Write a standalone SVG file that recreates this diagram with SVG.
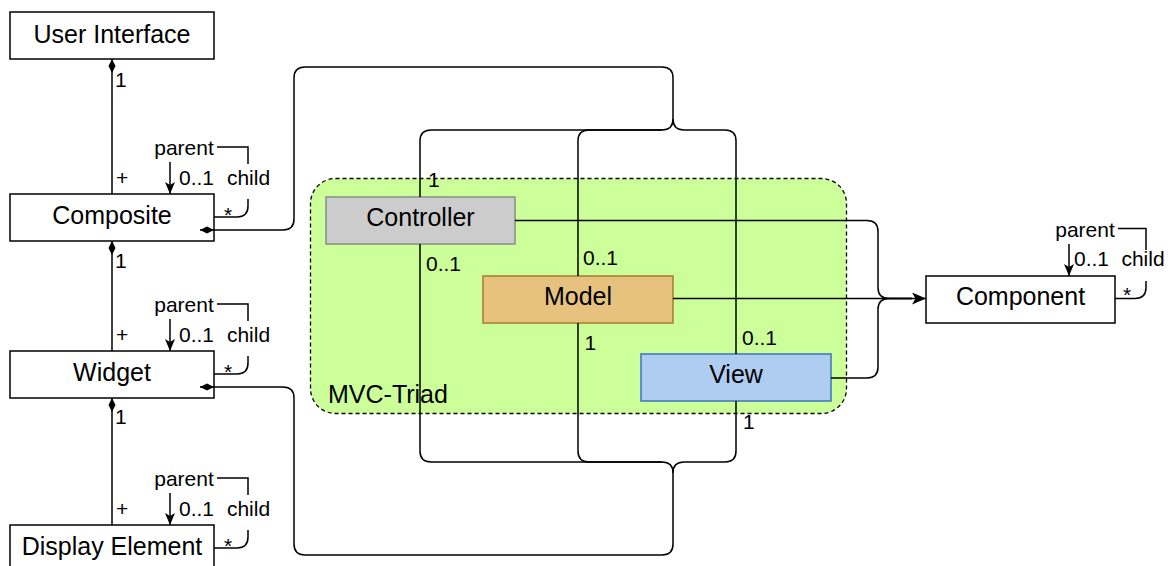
<svg xmlns="http://www.w3.org/2000/svg" width="1172" height="566" viewBox="0 0 1172 566">
  <style>
    .box { fill: #ffffff; stroke: #000000; stroke-width: 1.5; }
    .name { font-family: "Liberation Sans", Arial, Helvetica, sans-serif; font-size: 25px; fill: #000000; text-anchor: middle; }
    .lbl { font-family: "Liberation Sans", Arial, Helvetica, sans-serif; font-size: 21px; fill: #000000; }
    .mid { text-anchor: middle; }
    .edge { fill: none; stroke: #000000; stroke-width: 1.5; }
    .bg { fill: #ffffff; }
  </style>
  <defs>
    <!-- filled composition diamond, placed at the start of a path -->
    <marker id="diamond" viewBox="0 0 14 8" refX="0" refY="4" markerWidth="14" markerHeight="8" markerUnits="userSpaceOnUse" orient="auto">
      <path d="M0,4 L7,0.5 L14,4 L7,7.5 Z" fill="#000000"/>
    </marker>
    <!-- classic filled arrowhead -->
    <marker id="arrow" viewBox="0 0 14 12" refX="14" refY="6" markerWidth="14" markerHeight="12" markerUnits="userSpaceOnUse" orient="auto">
      <path d="M0,0 L14,6 L0,12 L3.5,6 Z" fill="#000000"/>
    </marker>
    <marker id="arrowSm" viewBox="0 0 12 10" refX="12" refY="5" markerWidth="12" markerHeight="10" markerUnits="userSpaceOnUse" orient="auto">
      <path d="M0,0 L12,5 L0,10 L3,5 Z" fill="#000000"/>
    </marker>
  </defs>

  <!-- container for the MVC triad -->
  <g id="mvc-triad">
    <rect x="310.5" y="178.5" width="536" height="235" rx="25" ry="25" fill="#ccff99" stroke="#000000" stroke-width="1.3" stroke-dasharray="4 3"/>
    <text class="name" x="328" y="403" style="text-anchor:start">MVC-Triad</text>
  </g>

  <!-- nodes -->
  <g id="user-interface">
    <rect class="box" x="10" y="12" width="204" height="47"/>
    <text class="name" x="112" y="43">User Interface</text>
  </g>
  <g id="composite">
    <rect class="box" x="10" y="194" width="204" height="47"/>
    <text class="name" x="112" y="224">Composite</text>
  </g>
  <g id="widget">
    <rect class="box" x="10" y="351" width="204" height="47"/>
    <text class="name" x="112" y="381">Widget</text>
  </g>
  <g id="display-element">
    <rect class="box" x="10" y="525" width="204" height="47"/>
    <text class="name" x="112" y="555">Display Element</text>
  </g>
  <g id="controller">
    <rect x="326" y="197" width="189" height="47" fill="#cccccc" stroke="#8a8a8a" stroke-width="1.5"/>
    <text class="name" x="420.5" y="226">Controller</text>
  </g>
  <g id="model">
    <rect x="483" y="276" width="190" height="47" fill="#e7c27f" stroke="#a87b2c" stroke-width="1.5"/>
    <text class="name" x="578" y="305">Model</text>
  </g>
  <g id="view">
    <rect x="641" y="354" width="190" height="47" fill="#aecdf0" stroke="#3a74bd" stroke-width="1.5"/>
    <text class="name" x="736" y="383">View</text>
  </g>
  <g id="component">
    <rect class="box" x="926" y="276" width="189" height="47"/>
    <text class="name" x="1020.5" y="305">Component</text>
  </g>

  <!-- connectors -->
  <g id="connectors">
    <!-- composition chain on the left -->
    <path class="edge" d="M112 59 V194" marker-start="url(#diamond)"/>
    <path class="edge" d="M112 241 V351" marker-start="url(#diamond)"/>
    <path class="edge" d="M112 398 V525" marker-start="url(#diamond)"/>

    <!-- parent/child self loops -->
    <path class="edge" d="M214 217 H237 Q248 217 248 206 V147 H170 V194" marker-end="url(#arrowSm)"/>
    <path class="edge" d="M214 374 H237 Q248 374 248 363 V304 H170 V351" marker-end="url(#arrowSm)"/>
    <path class="edge" d="M214 548 H237 Q248 548 248 537 V478 H170 V525" marker-end="url(#arrowSm)"/>
    <path class="edge" d="M1115 298.5 H1135 Q1146 298.5 1146 287.5 V228.5 H1069 V276" marker-end="url(#arrowSm)"/>

    <!-- Composite to the triad: shared upper bus, branches split at x=673 -->
    <path class="edge" d="M200 230 H283 Q294 230 294 219 V78 Q294 67 305 67 H662 Q673 67 673 78 V119 Q673 130 662 130 H431 Q420 130 420 141 V197" marker-start="url(#diamond)"/>
    <path class="edge" d="M662 130 H589 Q578 130 578 141 V276"/>
    <path class="edge" d="M673 119 Q673 130 684 130 H725 Q736 130 736 141 V354"/>

    <!-- Widget to the triad: shared lower bus -->
    <path class="edge" d="M200 387 H283 Q294 387 294 398 V544 Q294 555 305 555 H662 Q673 555 673 544 V473 Q673 462 662 462 H431 Q420 462 420 451 V244" marker-start="url(#diamond)"/>
    <path class="edge" d="M662 462 H589 Q578 462 578 451 V323"/>
    <path class="edge" d="M673 473 Q673 462 684 462 H725 Q736 462 736 451 V401"/>

    <!-- triad members to Component -->
    <path class="edge" d="M515 220.5 H867 Q878 220.5 878 231.5 V287.5 Q878 298.5 889 298.5 H912"/>
    <path class="edge" d="M673 298.5 H926" marker-end="url(#arrow)"/>
    <path class="edge" d="M831 378 H867 Q878 378 878 367 V309.5 Q878 298.5 889 298.5 H912"/>
  </g>

  <!-- connector labels -->
  <g id="connector-labels">
    <text class="lbl" x="115" y="87">1</text>
    <text class="lbl" x="116" y="185">+</text>
    <text class="lbl" x="115" y="268">1</text>
    <text class="lbl" x="116" y="342">+</text>
    <text class="lbl" x="115" y="424">1</text>
    <text class="lbl" x="116" y="516">+</text>

    <!-- Composite loop -->
    <rect class="bg" x="151" y="137" width="66" height="25"/>
    <text class="lbl mid" x="184" y="155">parent</text>
    <text class="lbl" x="179" y="185">0..1</text>
    <rect class="bg" x="225" y="164" width="47" height="35"/>
    <text class="lbl mid" x="248.5" y="185">child</text>
    <text class="lbl mid" x="228" y="222">*</text>

    <!-- Widget loop -->
    <rect class="bg" x="151" y="294" width="66" height="25"/>
    <text class="lbl mid" x="184" y="312">parent</text>
    <text class="lbl" x="179" y="342">0..1</text>
    <rect class="bg" x="225" y="321" width="47" height="35"/>
    <text class="lbl mid" x="248.5" y="342">child</text>
    <text class="lbl mid" x="228" y="379">*</text>

    <!-- Display Element loop -->
    <rect class="bg" x="151" y="468" width="66" height="25"/>
    <text class="lbl mid" x="184" y="486">parent</text>
    <text class="lbl" x="179" y="516">0..1</text>
    <rect class="bg" x="225" y="495" width="47" height="35"/>
    <text class="lbl mid" x="248.5" y="516">child</text>
    <text class="lbl mid" x="228" y="553">*</text>

    <!-- Component loop -->
    <rect class="bg" x="1051" y="219" width="67" height="25"/>
    <text class="lbl mid" x="1085" y="237">parent</text>
    <text class="lbl" x="1074" y="266">0..1</text>
    <rect class="bg" x="1121" y="250" width="46" height="31"/>
    <text class="lbl mid" x="1143" y="266">child</text>
    <text class="lbl mid" x="1127" y="302">*</text>

    <!-- triad multiplicities -->
    <text class="lbl" x="428" y="187">1</text>
    <text class="lbl" x="426" y="271">0..1</text>
    <text class="lbl" x="583" y="265">0..1</text>
    <text class="lbl" x="584.5" y="350">1</text>
    <text class="lbl" x="742" y="345">0..1</text>
    <text class="lbl" x="743" y="429">1</text>
  </g>
</svg>
